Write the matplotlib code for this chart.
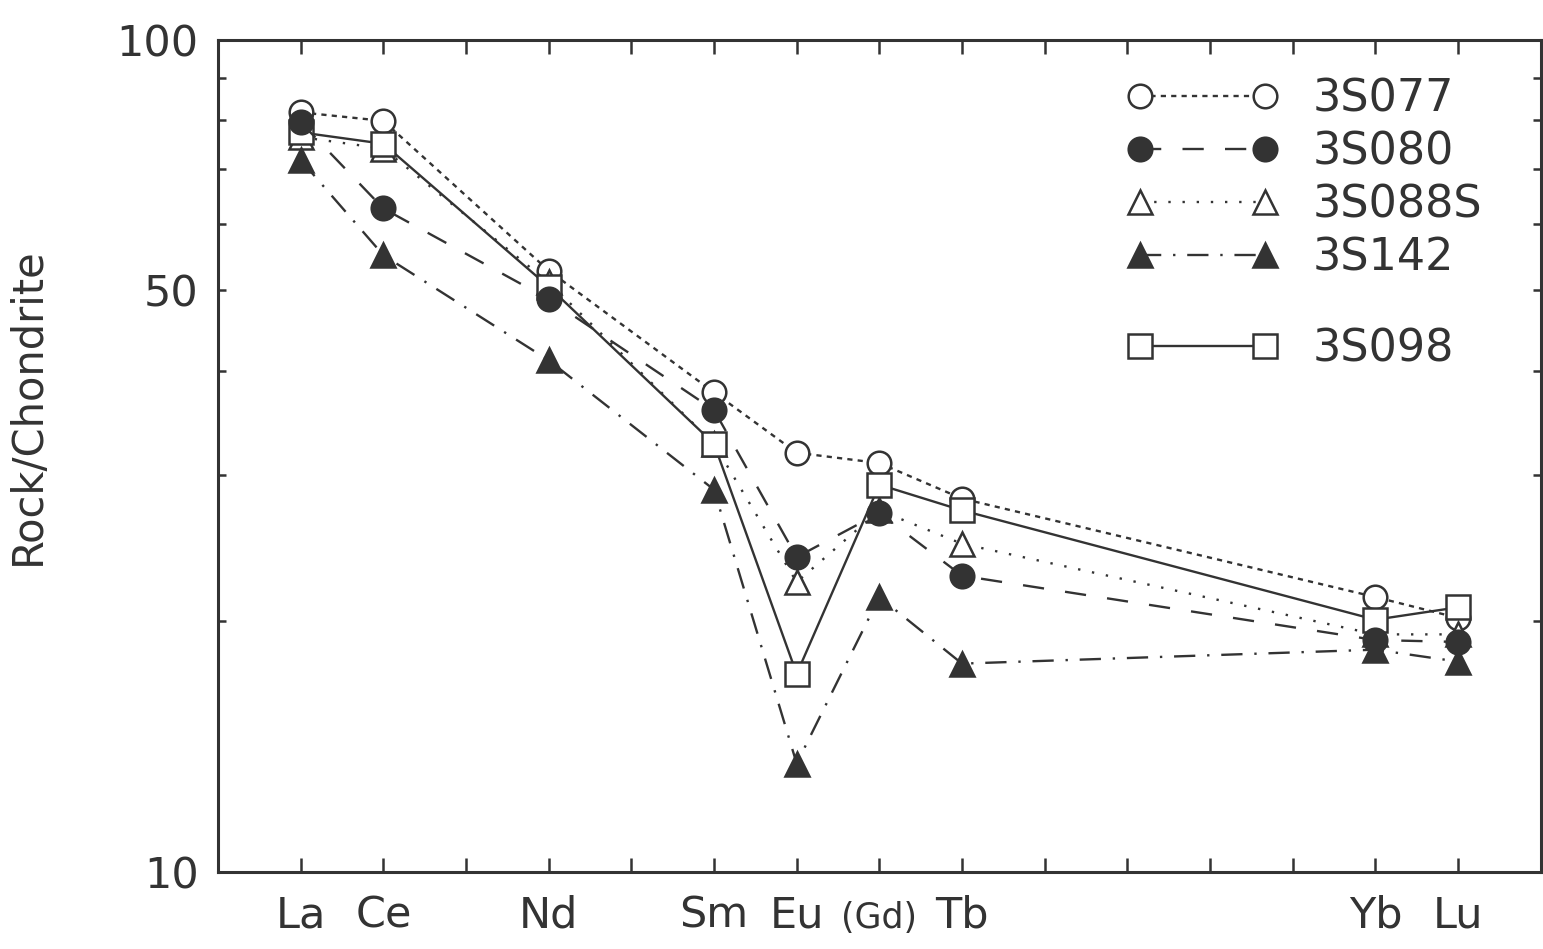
import numpy as np
import matplotlib.pyplot as plt
from matplotlib.ticker import FixedLocator, NullLocator, FixedFormatter

# REE positions (La..Lu, with Pr, Pm, Dy, Ho, Er, Tm unlabeled)
ree_pos = [0, 1, 3, 5, 6, 7, 8, 13, 14]
tick_pos = list(range(15))
tick_labels = ["La", "Ce", "", "Nd", "", "Sm", "Eu", "(Gd)", "Tb",
               "", "", "", "", "Yb", "Lu"]

# chondrite-normalised values
s077 = [81.8, 79.9, 52.8, 37.7, 31.9, 31.0, 28.1, 21.4, 20.2]
s080 = [79.6, 62.7, 48.8, 35.9, 23.9, 27.0, 22.7, 19.0, 18.9]
s088s = [76.4, 74.0, 51.1, 32.7, 22.3, 27.2, 24.8, 19.3, 19.3]
s142 = [71.7, 55.1, 41.2, 28.8, 13.5, 21.4, 17.8, 18.5, 17.9]
s098 = [77.4, 75.0, 50.5, 32.7, 17.3, 29.2, 27.2, 20.1, 20.8]

ink = "#333333"
plt.rcParams['font.family'] = ['DejaVu Sans']

fig = plt.figure(figsize=(15.43, 9.49), dpi=100)
ax = fig.add_axes([0.1413, 0.0811, 0.8572, 0.877])

ms = 17
mew = 1.8
lw = 1.7
common = dict(color=ink, markersize=ms, markeredgewidth=mew, linewidth=lw,
              markeredgecolor=ink)

l077, = ax.plot(ree_pos, s077, marker='o', markerfacecolor='white',
                linestyle=(0, (2.2, 2.2)), label="3S077", zorder=3, **common)
l080, = ax.plot(ree_pos, s080, marker='o', markerfacecolor=ink,
                linestyle=(0, (9, 9)), label="3S080", zorder=4, **common)
l088, = ax.plot(ree_pos, s088s, marker='^', markerfacecolor='white',
                linestyle=(0, (1, 5)), label="3S088S", zorder=3, **common)
l142, = ax.plot(ree_pos, s142, marker='^', markerfacecolor=ink,
                linestyle=(0, (9, 5, 1, 5)), label="3S142", zorder=4, **common)
l098, = ax.plot(ree_pos, s098, marker='s', markerfacecolor='white',
                linestyle='-', label="3S098", zorder=3, **common)

ax.set_yscale('log')
ax.set_ylim(10, 100)
ax.set_xlim(-1, 15)

ax.yaxis.set_major_locator(FixedLocator([10, 20, 30, 40, 50, 60, 70, 80, 90, 100]))
ax.yaxis.set_major_formatter(FixedFormatter(["10", "", "", "", "50", "", "", "", "", "100"]))
ax.yaxis.set_minor_locator(NullLocator())
ax.xaxis.set_major_locator(FixedLocator(tick_pos))
ax.xaxis.set_major_formatter(FixedFormatter(tick_labels))
ax.xaxis.set_minor_locator(NullLocator())

ax.tick_params(axis='y', which='major', direction='in', length=6, width=1.8,
               colors=ink, labelsize=31, pad=14, left=True, right=True)
ax.tick_params(axis='x', which='major', direction='in', length=10, width=1.8,
               colors=ink, labelsize=31, pad=40, top=True, bottom=True)
for lab in ax.get_xticklabels():
    lab.set_verticalalignment('baseline')
    if lab.get_text() == "(Gd)":
        lab.set_fontsize(25)

for sp in ax.spines.values():
    sp.set_linewidth(2.2)
    sp.set_color(ink)

ax.set_ylabel("Rock/Chondrite", fontsize=30, color=ink)
ax.yaxis.set_label_coords(-0.128, 0.56)

leg_kw = dict(frameon=False, numpoints=2, fontsize=32, handlelength=3.4,
              handletextpad=0.77, borderpad=0, borderaxespad=0,
              labelspacing=0.22, loc='upper left',
              bbox_transform=fig.transFigure, labelcolor=ink)
leg1 = ax.legend(handles=[l077, l080, l088, l142], bbox_to_anchor=(0.7304, 0.918), **leg_kw)
ax.add_artist(leg1)
ax.legend(handles=[l098], bbox_to_anchor=(0.7304, 0.655), **leg_kw)

fig.savefig("out.png", dpi=100)
